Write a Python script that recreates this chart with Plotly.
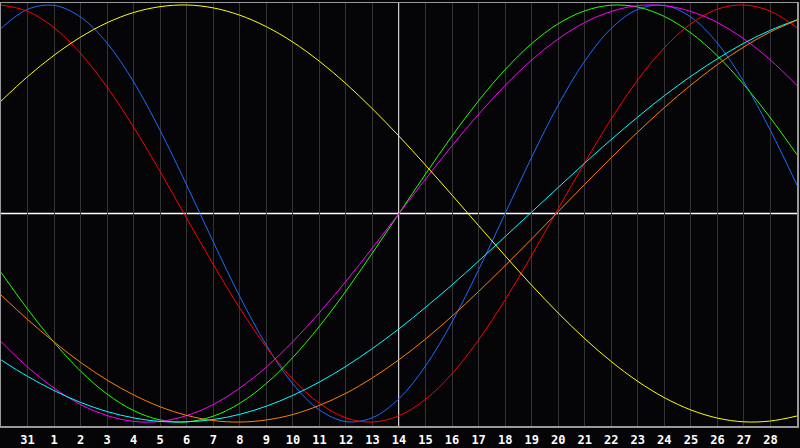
import plotly.graph_objects as go

# Day labels on the x axis (index 1..29); index 0 and 30 are the unlabeled edges
day_labels = ["31", "1", "2", "3", "4", "5", "6", "7", "8", "9", "10", "11", "12", "13",
              "14", "15", "16", "17", "18", "19", "20", "21", "22", "23", "24", "25",
              "26", "27", "28"]
day_index = list(range(31))

# Cycle values (percent, -100..100) read at each day gridline
blue = [88.8, 97.9, 99.8, 94.2, 81.7, 63.1, 39.8, 13.6, -13.6, -39.8, -63.1, -81.7, -94.2,
        -99.8, -97.9, -88.8, -73.1, -52.0, -27.0, 0.0, 27.0, 52.0, 73.1, 88.8, 97.9, 99.8,
        94.2, 81.7, 63.1, 39.8, 13.6]
red = [100.0, 97.0, 89.1, 76.8, 60.6, 41.4, 20.1, -2.3, -24.4, -45.4, -64.1, -79.5, -91.0,
       -98.0, -100.0, -97.0, -89.1, -76.8, -60.6, -41.4, -20.1, 2.3, 24.4, 45.4, 64.1, 79.5,
       91.0, 98.0, 100.0, 97.0, 89.1]
green = [-28.2, -45.8, -61.8, -75.6, -86.6, -94.5, -99.0, -99.9, -97.2, -91.0, -81.5, -69.0,
         -54.1, -37.2, -18.9, 0.0, 18.9, 37.2, 54.1, 69.0, 81.5, 91.0, 97.2, 99.9, 99.0, 94.5,
         86.6, 75.6, 61.8, 45.8, 28.2]
magenta = [-61.4, -73.6, -83.7, -91.6, -96.9, -99.7, -99.7, -96.9, -91.6, -83.7, -73.6, -61.4,
           -47.6, -32.5, -16.5, 0.0, 16.5, 32.5, 47.6, 61.4, 73.6, 83.7, 91.6, 96.9, 99.7, 99.7,
           96.9, 91.6, 83.7, 73.6, 61.4]
cyan = [-70.2, -78.1, -84.9, -90.6, -95.0, -98.0, -99.7, -99.9, -98.8, -96.3, -92.4, -87.2,
        -80.8, -73.3, -64.7, -55.3, -45.0, -34.2, -22.8, -11.1, 0.7, 12.5, 24.2, 35.5, 46.3,
        56.5, 65.8, 74.2, 81.7, 87.9, 92.9]
orange = [-39.1, -50.8, -61.6, -71.4, -79.9, -87.0, -92.7, -96.8, -99.3, -100.0, -99.0, -96.4,
          -92.0, -86.2, -78.8, -70.1, -60.2, -49.2, -37.4, -25.0, -12.2, 0.9, 14.0, 26.8, 39.1,
          50.8, 61.6, 71.4, 79.9, 87.1, 92.7]
yellow = [53.9, 65.6, 75.9, 84.6, 91.5, 96.4, 99.2, 100.0, 98.6, 95.1, 89.6, 82.2, 73.0, 62.3,
          50.2, 37.1, 23.2, 8.8, -5.8, -20.3, -34.4, -47.7, -60.0, -71.0, -80.5, -88.3, -94.2,
          -98.1, -99.9, -99.5, -97.1]

today_index = 15

series = [
    (blue, "#1a6cff"),
    (red, "#ff0000"),
    (green, "#22ff00"),
    (magenta, "#ff00ff"),
    (cyan, "#00ffff"),
    (orange, "#ff8000"),
    (yellow, "#ffff00"),
]

fig = go.Figure()
for vals, col in series:
    fig.add_trace(go.Scatter(x=day_index, y=vals, mode="lines",
                             line=dict(color=col, width=1, shape="spline", smoothing=1.0),
                             hoverinfo="skip", showlegend=False))

# today vertical line and zero line
fig.add_shape(type="line", xref="x", yref="paper", x0=today_index, x1=today_index,
              y0=0, y1=1, line=dict(color="#ffffff", width=1.6), layer="below")
fig.add_shape(type="line", xref="paper", yref="y", x0=0, x1=1, y0=0, y1=0,
              line=dict(color="#ffffff", width=1.6), layer="below")

fig.update_layout(
    width=800, height=448,
    margin=dict(l=1, r=1, t=1, b=20),
    paper_bgcolor="#050508", plot_bgcolor="#050508",
    showlegend=False,
)
fig.update_xaxes(
    range=[0, 30], tickmode="array", tickvals=day_index[1:30], ticktext=day_labels,
    showgrid=True, gridcolor="#343434", gridwidth=1, zeroline=False,
    showline=True, mirror=True, linecolor="#9a9a9a", linewidth=1.5,
    ticks="outside", ticklen=2, tickcolor="#050508",
    tickfont=dict(family="DejaVu Sans Mono", size=12, color="#ffffff", weight="bold"),
    fixedrange=True,
)
fig.update_yaxes(
    range=[-101.9, 100.95], showgrid=False, zeroline=False, showticklabels=False,
    showline=True, mirror=True, linecolor="#9a9a9a", linewidth=1.5, fixedrange=True,
)

fig.write_html(
    "out.html",
    config={"displayModeBar": False, "staticPlot": True},
    post_script="document.body.style.margin='0';document.body.style.overflow='hidden';"
                "document.body.style.background='#050508';",
)
